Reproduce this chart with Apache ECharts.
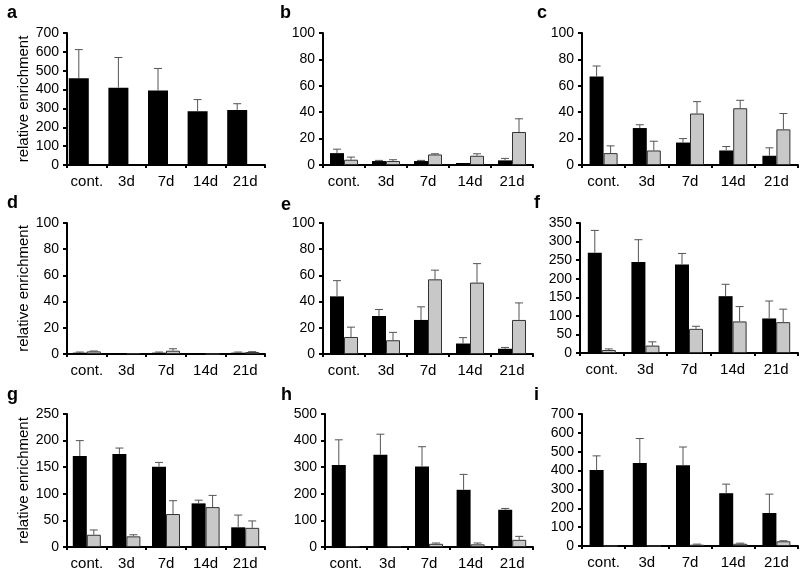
<!DOCTYPE html>
<html><head><meta charset="utf-8">
<script src="https://cdn.jsdelivr.net/npm/echarts@6/dist/echarts.min.js"></script>
<style>html,body{margin:0;padding:0;background:#fff}#c{width:800px;height:575px}</style>
</head><body><div id="c"></div>
<script>
const categories = ['cont.', '3d', '7d', '14d', '21d'];
const panelLetters = ['a', 'b', 'c', 'd', 'e', 'f', 'g', 'h', 'i'];
const yMaxes = [700, 100, 100, 100, 100, 350, 250, 500, 700];
const yIntervals = [100, 20, 20, 20, 20, 50, 50, 100, 100];

const aBlack = [460, 410, 395, 285, 292], aBlackSd = [152, 160, 117, 62, 33];
const aGray = [null, null, null, null, null], aGraySd = [0, 0, 0, 0, 0];
const bBlack = [9, 3, 3, 1.5, 3.5], bBlackSd = [3, 0.5, 0.5, 0, 1.5];
const bGray = [4, 3, 8, 7, 25], bGraySd = [2, 1, 0.5, 1.5, 10];
const cBlack = [67, 28, 17, 11, 7], cBlackSd = [8, 2.5, 3, 3, 6];
const cGray = [9, 11, 39, 43, 27], cGraySd = [5.5, 7, 9, 6, 12];
const dBlack = [1, 0.5, 1, 0, 1], dBlackSd = [0.5, 0, 0.5, 0, 0.5];
const dGray = [2, 0.5, 2.5, 0, 1.5], dGraySd = [0.3, 0, 1.5, 0, 0.3];
const eBlack = [44, 29, 26, 8, 4], eBlackSd = [12, 5, 10, 4.5, 1];
const eGray = [13, 10.5, 57, 54.5, 26], eGraySd = [7.5, 6, 7, 14.5, 13];
const fBlack = [270, 245, 238, 153, 93], fBlackSd = [60, 60, 30, 32, 47];
const fGray = [8, 20, 65, 85, 83], fGraySd = [3, 10, 7, 40, 35];
const gBlack = [171, 175, 151, 82, 37], gBlackSd = [29, 11, 8, 6, 23];
const gGray = [23, 20, 62, 75, 36], gGraySd = [9, 3, 25, 22, 13];
const hBlack = [308, 347, 303, 215, 140], hBlackSd = [95, 77, 74, 58, 5];
const hGray = [2, 2, 12, 10, 27], hGraySd = [0, 0, 3, 5, 13];
const iBlack = [403, 440, 428, 280, 175], iBlackSd = [75, 130, 97, 48, 100];
const iGray = [0, 0, 7, 12, 25], iGraySd = [0, 0, 3, 3, 3];

const blackSets = [aBlack, bBlack, cBlack, dBlack, eBlack, fBlack, gBlack, hBlack, iBlack];
const blackSds = [aBlackSd, bBlackSd, cBlackSd, dBlackSd, eBlackSd, fBlackSd, gBlackSd, hBlackSd, iBlackSd];
const graySets = [aGray, bGray, cGray, dGray, eGray, fGray, gGray, hGray, iGray];
const graySds = [aGraySd, bGraySd, cGraySd, dGraySd, eGraySd, fGraySd, gGraySd, hGraySd, iGraySd];

// layout (pixels)
const grids = [
  {left: 67, top: 33, width: 198, height: 132},
  {left: 323, top: 33, width: 210, height: 132},
  {left: 582, top: 33, width: 216, height: 132},
  {left: 67, top: 223, width: 198, height: 131},
  {left: 323, top: 223, width: 210, height: 131},
  {left: 580, top: 223, width: 218, height: 130},
  {left: 67, top: 414, width: 198, height: 133},
  {left: 325, top: 414, width: 208, height: 133},
  {left: 582, top: 414, width: 216, height: 132}
];
const letterPos = [[7, 4], [280, 4], [537, 4], [7, 194], [281, 196], [534, 194], [7, 386], [281, 386], [534, 386]];
const font = 'Liberation Sans, Arial, sans-serif';

const xAxes = [], yAxes = [], series = [], graphics = [];
grids.forEach((g, k) => {
  xAxes.push({
    type: 'category', gridIndex: k, data: categories,
    axisLine: {lineStyle: {color: '#000', width: 2}},
    axisTick: {show: true, length: 3, lineStyle: {color: '#000', width: 2}},
    axisLabel: {color: '#000', fontSize: 15, fontFamily: font, margin: 9, interval: 0, hideOverlap: false}
  });
  yAxes.push({
    type: 'value', gridIndex: k, min: 0, max: yMaxes[k], interval: yIntervals[k],
    name: (k % 3 === 0) ? 'relative enrichment' : '',
    nameLocation: 'middle', nameGap: 36,
    nameTextStyle: {color: '#000', fontSize: 15, fontFamily: font},
    axisLine: {show: true, lineStyle: {color: '#000', width: 2}},
    axisTick: {show: true, length: 4, lineStyle: {color: '#000', width: 2}},
    splitLine: {show: false},
    axisLabel: {color: '#000', fontSize: 14, fontFamily: font, margin: 8}
  });
  const bw = k === 0 ? 20 : 14;
  const gap = k === 0 ? -4 : 0;
  const off = (bw + gap) / 2;
  series.push({
    type: 'bar', xAxisIndex: k, yAxisIndex: k, data: blackSets[k],
    barWidth: bw, barGap: (gap / bw * 100) + '%',
    itemStyle: {color: '#000'}, z: 2
  });
  series.push({
    type: 'bar', xAxisIndex: k, yAxisIndex: k, data: graySets[k],
    barWidth: bw,
    itemStyle: {color: '#c8c8c8', borderColor: '#333', borderWidth: 1}, z: 2
  });
  [[blackSets[k], blackSds[k], -off], [graySets[k], graySds[k], off]].forEach(([vals, sds, o]) => {
    const d = [];
    vals.forEach((v, i) => { if (v != null && sds[i] > 0) d.push([i, v, v + sds[i]]); });
    series.push({
      type: 'custom', xAxisIndex: k, yAxisIndex: k, data: d, z: 3, silent: true,
      encode: {x: 0, y: [1, 2]},
      renderItem: function (params, api) {
        const p0 = api.coord([api.value(0), api.value(1)]);
        const p1 = api.coord([api.value(0), api.value(2)]);
        const x = p0[0] + o;
        const style = {stroke: '#555', lineWidth: 1};
        return {type: 'group', children: [
          {type: 'line', shape: {x1: x, y1: p0[1], x2: x, y2: p1[1]}, style: style},
          {type: 'line', shape: {x1: x - 4, y1: p1[1], x2: x + 4, y2: p1[1]}, style: style}
        ]};
      }
    });
  });
  graphics.push({
    type: 'text', left: letterPos[k][0], top: letterPos[k][1],
    style: {text: panelLetters[k], font: 'bold 18px ' + font, fill: '#000'}
  });
});

const chart = echarts.init(document.getElementById('c'), null, {renderer: 'canvas'});
chart.setOption({
  animation: false,
  backgroundColor: '#fff',
  grid: grids,
  xAxis: xAxes,
  yAxis: yAxes,
  series: series,
  graphic: graphics
});
</script></body></html>
